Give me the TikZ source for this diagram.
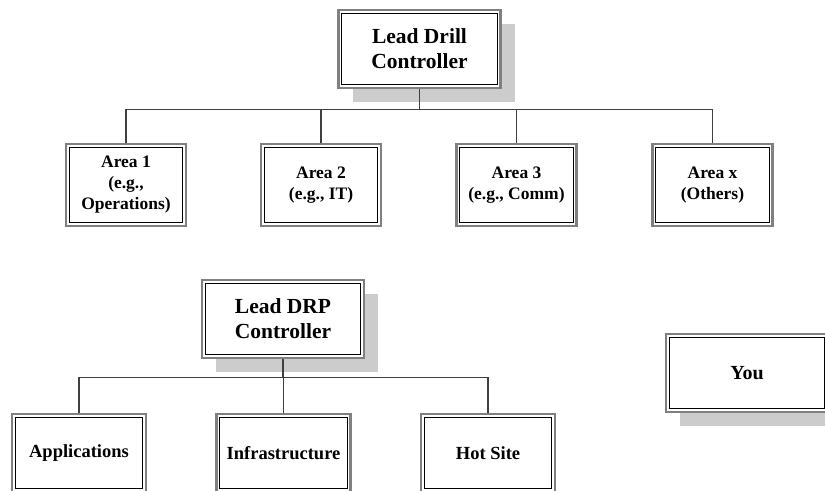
\documentclass[tikz,border=0pt]{standalone}
\usepackage{fontspec}
\setmainfont{Liberation Serif}
\usetikzlibrary{shadows}
\begin{document}
\begin{tikzpicture}[x=1bp,y=-1bp,
  box/.style={draw=black!50, line width=2.4bp, fill=white, inner sep=0pt, align=center,
    path picture={\draw[black, line width=1.1bp]
      ([xshift=3.1bp,yshift=-3.1bp]path picture bounding box.north west) rectangle
      ([xshift=-3.1bp,yshift=3.1bp]path picture bounding box.south east);}},
  shadowed/.style={drop shadow={shadow xshift=14bp, shadow yshift=-14bp, fill=black!20, opacity=1}},
  leadbox/.style={box, shadowed, minimum width=162bp, minimum height=78bp,
    font=\fontsize{21.5bp}{25bp}\selectfont\bfseries},
  areabox/.style={box, minimum width=120bp, minimum height=82bp,
    font=\fontsize{17.5bp}{21bp}\selectfont\bfseries},
  teambox/.style={box, minimum width=134bp, minimum height=78bp,
    font=\fontsize{18.5bp}{21bp}\selectfont\bfseries},
  conn/.style={draw=black!75, line width=1.2bp}
]
\useasboundingbox (0,0) rectangle (825,491);

% top chart
\node[leadbox] (drill) at (419.5,49) {Lead Drill\\Controller};
\node[areabox] (a1) at (126,185) {Area 1\\(e.g.,\\Operations)};
\node[areabox] (a2) at (321,185) {Area 2\\(e.g., IT)};
\node[areabox] (a3) at (516.5,185) {Area 3\\(e.g., Comm)};
\node[areabox] (a4) at (712.5,185) {Area x\\(Others)};
\coordinate (bus1) at (419.5,110);
\draw[conn] (drill.south) -- (bus1);
\draw[conn] (a1.north) -- ++(0,-33) -| (a4.north);
\draw[conn] (a2.north) -- ++(0,-33);
\draw[conn] (a3.north) -- ++(0,-33);

% bottom chart
\node[leadbox] (drp) at (283,319) {Lead DRP\\Controller};
\node[teambox] (app) at (79,453) {Applications};
\node[teambox] (inf) at (283.5,453) {Infrastructure};
\node[teambox] (hot) at (488,453) {Hot Site};
\coordinate (bus2) at (283,378);
\draw[conn] (drp.south) -- (bus2);
\draw[conn] (app.north) -- ++(0,-35) -| (hot.north);
\draw[conn] (inf.north) -- ++(0,-35);

% you
\node[leadbox, font=\fontsize{20bp}{23bp}\selectfont\bfseries] (you) at (747,373) {You};
\end{tikzpicture}
\end{document}
